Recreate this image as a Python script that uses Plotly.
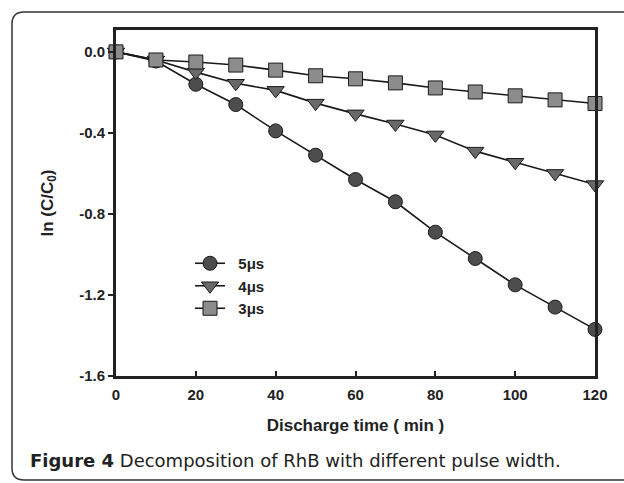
import plotly.graph_objects as go

time_min = [0, 10, 20, 30, 40, 50, 60, 70, 80, 90, 100, 110, 120]
ln_5us = [0.0, -0.045, -0.16, -0.26, -0.39, -0.51, -0.63, -0.74, -0.89, -1.02, -1.15, -1.26, -1.37]
ln_4us = [0.0, -0.04, -0.10, -0.155, -0.19, -0.253, -0.306, -0.356, -0.41, -0.49, -0.545, -0.60, -0.655]
ln_3us = [0.0, -0.04, -0.05, -0.065, -0.09, -0.118, -0.133, -0.153, -0.178, -0.198, -0.217, -0.237, -0.255]
series_names = ["5μs", "4μs", "3μs"]
y_tick_vals = [0.0, -0.4, -0.8, -1.2, -1.6]
y_tick_text = ["0.0", "-0.4", "-0.8", "-1.2", "-1.6"]
x_tick_vals = [0, 20, 40, 60, 80, 100, 120]

W, H = 624, 483
L, R, T, B = 116, 595, 30, 376

def px(x):
    return (x - L) / (R - L)

def py(y):
    return (B - y) / (B - T)

fig = go.Figure()
styles = [
    (ln_5us, "circle", "#4d4d4d", 14),
    (ln_4us, "triangle-down", "#696969", 15),
    (ln_3us, "square", "#8c8c8c", 14),
]
for name, (vals, sym, col, sz) in zip(series_names, styles):
    fig.add_trace(go.Scatter(
        x=time_min, y=vals, name="&nbsp;&nbsp;" + name, mode="lines+markers",
        line=dict(color="#1a1a1a", width=1.6),
        marker=dict(symbol=sym, size=sz, color=col, line=dict(color="#1a1a1a", width=1)),
        cliponaxis=False,
    ))

# rounded frame around the figure
r = 12
x0, x1, y0, y1 = 12, 640, 12, 480
path = (f"M {px(x1)} {py(y0)} L {px(x0 + r)} {py(y0)} "
        f"Q {px(x0)} {py(y0)} {px(x0)} {py(y0 + r)} "
        f"L {px(x0)} {py(y1 - r)} Q {px(x0)} {py(y1)} {px(x0 + r)} {py(y1)} "
        f"L {px(x1)} {py(y1)}")
fig.add_shape(type="path", path=path, xref="paper", yref="paper",
              line=dict(color="#333333", width=1.5))

fig.add_annotation(
    text="<b>Figure 4</b> Decomposition of RhB with different pulse width.",
    xref="paper", yref="paper", x=px(28), y=py(460), xanchor="left", yanchor="middle",
    showarrow=False, font=dict(family="DejaVu Sans", size=18, color="#222222"))

axis_font = dict(family="Liberation Sans", size=15, color="#222222", weight="bold")
fig.update_layout(
    width=W, height=H,
    margin=dict(l=L, r=W - R, t=T, b=H - B),
    paper_bgcolor="white", plot_bgcolor="white",
    showlegend=True,
    legend=dict(x=px(190), y=py(247), xanchor="left", yanchor="top",
                font=dict(family="Liberation Sans", size=15, color="#222222", weight="bold"),
                bgcolor="rgba(0,0,0,0)", tracegroupgap=0),
    xaxis=dict(range=[0, 120], tickvals=x_tick_vals, ticks="inside", ticklen=5, tickwidth=2,
               tickcolor="#222222", showline=True, linewidth=3, linecolor="#222222", mirror=True,
               showgrid=False, zeroline=False, tickfont=axis_font, ticklabelstandoff=3,
               title=dict(text="<b>Discharge time ( min )</b>", standoff=18,
                          font=dict(family="Liberation Sans", size=17, color="#222222"))),
    yaxis=dict(range=[-1.6, 0.108], tickvals=y_tick_vals, ticktext=y_tick_text, ticks="outside",
               ticklen=5, tickwidth=2, tickcolor="#222222", showline=True, linewidth=3,
               linecolor="#222222", mirror=True, showgrid=False, zeroline=False, tickfont=axis_font,
               title=dict(text="<b>ln (C/C<sub>0</sub>)</b>", standoff=22,
                          font=dict(family="Liberation Sans", size=17, color="#222222"))),
)
fig.write_html("out.html", config={"displayModeBar": False},
               post_script="document.body.style.margin='0';")
